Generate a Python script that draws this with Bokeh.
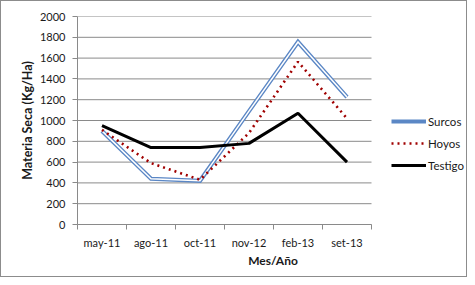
from bokeh.plotting import figure
from bokeh.models import FixedTicker, Legend, LegendItem, Range1d
from bokeh.embed import file_html
from bokeh.resources import INLINE

categories = ["may-11", "ago-11", "oct-11", "nov-12", "feb-13", "set-13"]
surcos = [900, 440, 420, 1090, 1755, 1225]
hoyos = [910, 590, 430, 880, 1565, 1020]
testigo = [950, 740, 740, 780, 1070, 600]
y_ticks = list(range(0, 2001, 200))

n = len(categories)
xs = [i + 0.5 for i in range(n)]

FONT = "Lato"
W, H = 467, 277
LEFT, TOP, BOTTOM, RIGHT = 76, 15, 54, 0
frame_w = W - LEFT - RIGHT
cat_px = 294 / n  # width of one category band in pixels

p = figure(width=W, height=H, output_backend="svg", toolbar_location=None,
           x_range=Range1d(0, frame_w / cat_px), y_range=Range1d(0, 2000),
           min_border_left=LEFT, min_border_right=RIGHT, min_border_top=TOP,
           min_border_bottom=BOTTOM)
p.outline_line_color = None
p.background_fill_color = "white"
p.border_fill_color = "white"
p.styles = {"border": "1px solid #8c8c8c", "box-sizing": "border-box"}

# grid (limited to the category span)
p.xgrid.grid_line_color = None
p.ygrid.grid_line_color = None
p.segment(x0=[0] * len(y_ticks), x1=[n] * len(y_ticks), y0=y_ticks, y1=y_ticks,
          line_color="#8a8a8a", line_width=1)
p.yaxis.ticker = FixedTicker(ticks=y_ticks)

# x axis
p.xaxis.bounds = (0, n)
p.xaxis.ticker = FixedTicker(ticks=xs, minor_ticks=list(range(n + 1)))
p.xaxis.major_label_overrides = {x: c for x, c in zip(xs, categories)}
p.xaxis.major_tick_line_color = None
p.xaxis.major_tick_out = 0
p.xaxis.major_tick_in = 0
p.xaxis.minor_tick_line_color = "#8a8a8a"
p.xaxis.minor_tick_out = 5
p.xaxis.minor_tick_in = 0
p.xaxis.major_label_standoff = 6
p.xaxis.axis_label = "Mes/Año"
p.xaxis.axis_label_standoff = 1

# y axis
p.yaxis.minor_tick_line_color = None
p.yaxis.major_tick_line_color = "#8a8a8a"
p.yaxis.major_tick_out = 5
p.yaxis.major_tick_in = 0
p.yaxis.major_label_standoff = 7
p.yaxis.axis_label = "Materia Seca (Kg/Ha)"
p.yaxis.axis_label_standoff = 2

for ax in (p.xaxis, p.yaxis):
    ax.axis_line_color = "#8a8a8a"
    ax.major_label_text_font = FONT
    ax.major_label_text_font_size = "11px"
    ax.major_label_text_color = "#1a1a1a"
    ax.axis_label_text_font = FONT
    ax.axis_label_text_font_size = "12.5px"
    ax.axis_label_text_font_style = "bold"
    ax.axis_label_text_color = "#1a1a1a"
p.xaxis.axis_label_text_font_size = "12px"

r_s = p.line(xs, surcos, line_color="#5B87C5", line_width=4.2, line_join="miter")
p.line(xs, surcos, line_color="white", line_width=1.5, line_join="miter")
r_h = p.line(xs, hoyos, line_color="#A00000", line_width=2.6, line_dash="2 4")
r_t = p.line(xs, testigo, line_color="black", line_width=3)

legend = Legend(items=[LegendItem(label="Surcos", renderers=[r_s]),
                       LegendItem(label="Hoyos", renderers=[r_h]),
                       LegendItem(label="Testigo", renderers=[r_t])],
                location=(314, 50), orientation="vertical",
                glyph_width=35, glyph_height=18, label_height=18, label_standoff=2,
                spacing=4, padding=0, margin=0,
                border_line_color=None, background_fill_alpha=0,
                label_text_font=FONT, label_text_font_size="11.5px",
                label_text_color="#1a1a1a")
p.add_layout(legend, "center")

open("out.html", "w").write(file_html(p, INLINE))
